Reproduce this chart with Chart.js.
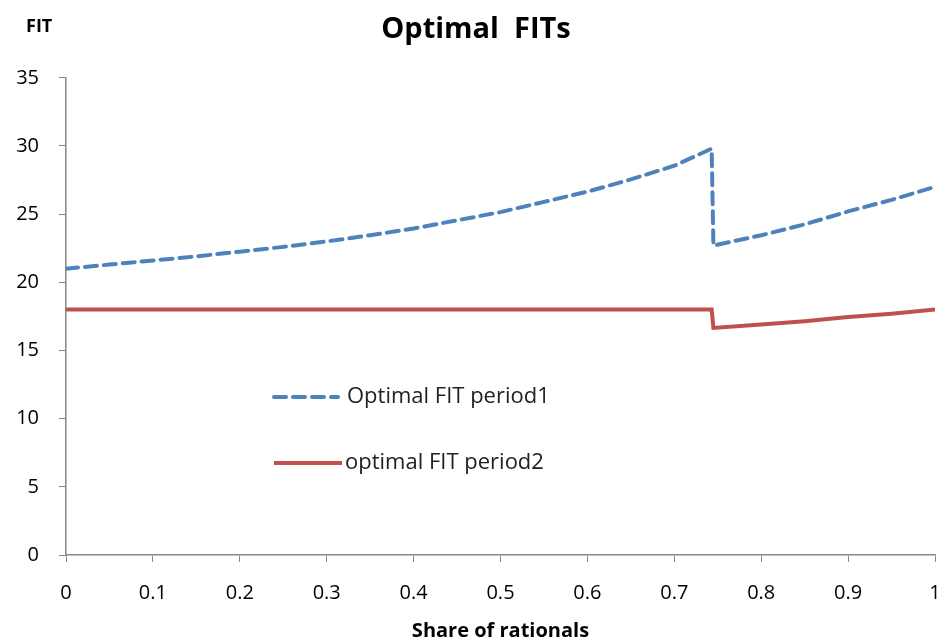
<!DOCTYPE html>
<html lang="en">
<head>
<meta charset="UTF-8">
<script src="https://cdn.jsdelivr.net/npm/chart.js"></script>
<title>Optimal FITs</title>
<style>
  html, body { margin: 0; padding: 0; background: #fff; }
  #wrap { width: 942px; height: 643px; }
</style>
</head>
<body>
<div id="wrap"><canvas id="grafico"></canvas></div>
<script>
// share of rationals
const xValues = [0, 0.05, 0.1, 0.15, 0.2, 0.25, 0.3, 0.35, 0.4, 0.45, 0.5, 0.55, 0.6, 0.65, 0.7, 0.743,
                 0.745, 0.8, 0.85, 0.9, 0.95, 1];
const period1 = [21.0, 21.3, 21.6, 21.9, 22.25, 22.6, 23.0, 23.45, 23.95, 24.55, 25.15, 25.9, 26.65, 27.55, 28.55, 29.8,
                 22.7, 23.45, 24.25, 25.2, 26.05, 27.0];
const period2 = [18, 18, 18, 18, 18, 18, 18, 18, 18, 18, 18, 18, 18, 18, 18, 18,
                 16.65, 16.9, 17.15, 17.45, 17.7, 18.0];
const xTicks = [0, 0.1, 0.2, 0.3, 0.4, 0.5, 0.6, 0.7, 0.8, 0.9, 1];
const yTicks = [0, 5, 10, 15, 20, 25, 30, 35];
const seriesNames = ['Optimal FIT period1', 'optimal FIT period2'];

const FONT = '"Open Sans", "Liberation Sans", sans-serif';

const extraText = {
    id: 'extraText',
    afterDraw(chart) {
        const ctx = chart.ctx;
        ctx.save();
        // y axis title
        ctx.fillStyle = '#000';
        ctx.font = 'bold 18px ' + FONT;
        ctx.textAlign = 'left';
        ctx.textBaseline = 'middle';
        ctx.fillText('FIT', 26, 27);
        // legend inside plot
        const items = [
            { y: 397, x0: 274, x1: 338, tx: 347 },
            { y: 463, x0: 274, x1: 342, tx: 345 }
        ];
        chart.data.datasets.forEach((ds, i) => {
            const it = items[i];
            ctx.strokeStyle = ds.borderColor;
            ctx.lineWidth = ds.borderWidth;
            ctx.lineCap = ds.borderCapStyle || 'butt';
            ctx.setLineDash(ds.borderDash || []);
            ctx.beginPath();
            ctx.moveTo(it.x0, it.y);
            ctx.lineTo(it.x1, it.y);
            ctx.stroke();
            ctx.setLineDash([]);
            ctx.fillStyle = '#222';
            ctx.font = '22px ' + FONT;
            ctx.fillText(ds.label, it.tx, it.y);
        });
        ctx.restore();
    }
};

new Chart(document.getElementById('grafico'), {
    type: 'line',
    data: {
        datasets: [{
            label: seriesNames[0],
            data: xValues.map((x, i) => ({ x: x, y: period1[i] })),
            borderColor: '#4F81BD',
            borderWidth: 4,
            borderDash: [12, 7],
            borderCapStyle: 'round',
            pointRadius: 0,
            tension: 0
        }, {
            label: seriesNames[1],
            data: xValues.map((x, i) => ({ x: x, y: period2[i] })),
            borderColor: '#C0504D',
            borderWidth: 4,
            pointRadius: 0,
            tension: 0
        }]
    },
    options: {
        responsive: true,
        maintainAspectRatio: false,
        animation: false,
        layout: { padding: { left: 10, right: 0, top: 0, bottom: 0 } },
        plugins: {
            legend: { display: false },
            tooltip: { enabled: false },
            title: {
                display: true,
                text: 'Optimal  FITs',
                color: '#000',
                font: { family: FONT, size: 29, weight: 'bold' },
                padding: { top: 12, bottom: 31 }
            }
        },
        scales: {
            x: {
                type: 'linear',
                min: 0,
                max: 1,
                afterBuildTicks: s => { s.ticks = xTicks.map(v => ({ value: v })); },
                afterFit: s => { s.height = 88; s.paddingRight = 7; s.paddingLeft = 0; },
                grid: { drawOnChartArea: false, drawTicks: true, tickLength: 7, color: '#888' },
                border: { display: true, color: '#888', width: 1.5 },
                ticks: { color: '#000', font: { family: FONT, size: 20 }, padding: 19, maxRotation: 0,
                         callback: v => String(v) },
                title: {
                    display: true,
                    text: 'Share of rationals',
                    color: '#000',
                    font: { family: FONT, size: 20, weight: 'bold' },
                    padding: { top: 4, bottom: 0 }
                }
            },
            y: {
                min: 0,
                max: 35,
                afterBuildTicks: s => { s.ticks = yTicks.map(v => ({ value: v })); },
                afterFit: s => { s.width = 56; },
                grid: { drawOnChartArea: false, drawTicks: true, tickLength: 7, color: '#888' },
                border: { display: true, color: '#888', width: 1.5 },
                ticks: { color: '#000', font: { family: FONT, size: 20 }, padding: 20 }
            }
        }
    },
    plugins: [extraText]
});
</script>
</body>
</html>
